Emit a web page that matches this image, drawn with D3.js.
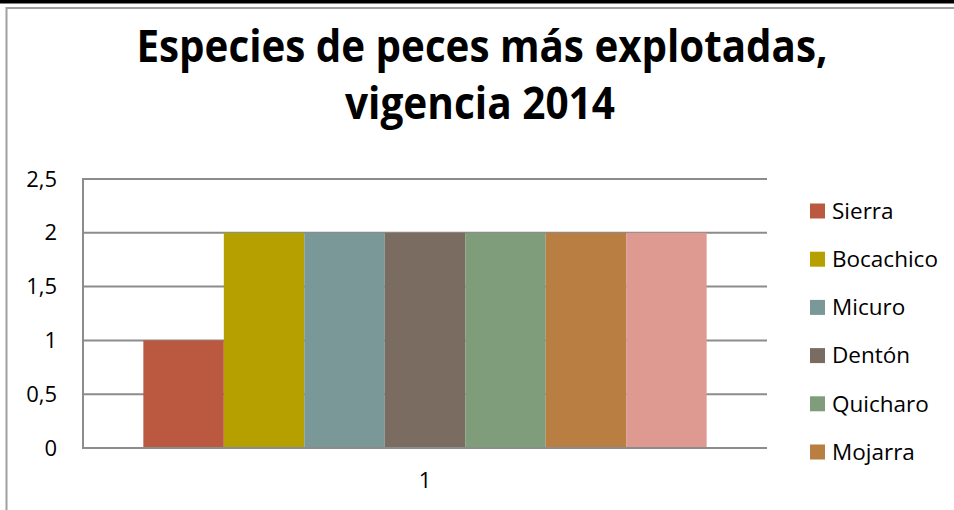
<!DOCTYPE html>
<html><head><meta charset="utf-8">
<script src="https://cdn.jsdelivr.net/npm/d3@7"></script>
<style>
html,body{margin:0;padding:0;background:#fff;}
svg{display:block;}
text{font-family:"Open Sans","Liberation Sans",sans-serif;}
</style></head>
<body>
<svg id="c" width="954" height="510"></svg>
<script>
const categories = ["1"];
const seriesNames = ["Sierra","Bocachico","Micuro","Dentón","Quicharo","Mojarra","Serie 7"];
const seriesValues = [1, 2, 2, 2, 2, 2, 2];
const seriesColors = ["#BB5840","#B5A000","#7A9898","#7A6C61","#7F9C7B","#B87E42","#DE9A90"];
const yTicks = [0, 0.5, 1, 1.5, 2, 2.5];
const legendShown = 6;

const svg = d3.select("#c");
const W = 954, H = 510;
const m = {left: 83, right: 767, top: 179, bottom: 448};
const FONT = '"Open Sans","Liberation Sans",sans-serif';

// top black band and chart frame
svg.append("rect").attr("x",0).attr("y",0).attr("width",W).attr("height",3.5).attr("fill","#000");
svg.append("path").attr("d",`M6.5,${H} V8 H${W}`).attr("fill","none").attr("stroke","#a0a0a0").attr("stroke-width",2);

// title
const title = svg.append("text").attr("text-anchor","middle").attr("font-weight","bold").attr("font-size",44).attr("fill","#000");
title.append("tspan").attr("x",482).attr("y",62).attr("textLength",691).attr("lengthAdjust","spacingAndGlyphs").text("Especies de peces más explotadas,");
title.append("tspan").attr("x",480).attr("y",119).attr("textLength",270).attr("lengthAdjust","spacingAndGlyphs").text("vigencia 2014");

const y = d3.scaleLinear().domain([0,2.5]).range([m.bottom, m.top]);
const x0 = d3.scaleBand().domain(categories).range([m.left, m.right]).paddingInner(0).paddingOuter(0.75/7);
const x1 = d3.scaleBand().domain(seriesNames).range([0, x0.bandwidth()]).padding(0);

// gridlines
svg.append("g").selectAll("line").data(yTicks).join("line")
  .attr("x1",m.left).attr("x2",m.right)
  .attr("y1",d=>y(d)).attr("y2",d=>y(d))
  .attr("stroke","#8c8c8c").attr("stroke-width",2);
// vertical axis line
svg.append("line").attr("x1",m.left).attr("x2",m.left).attr("y1",m.top-1).attr("y2",m.bottom+1)
  .attr("stroke","#8c8c8c").attr("stroke-width",2);

// y axis labels
const fmt = d => String(d).replace(".", ",");
const yAxis = d3.axisLeft(y).tickValues(yTicks).tickFormat(fmt).tickSize(0).tickPadding(26);
const ga = svg.append("g").attr("transform",`translate(${m.left},0)`).call(yAxis);
ga.select(".domain").remove();
ga.selectAll("text").attr("font-size",22).attr("fill","#000").style("font-family",FONT);

// bars
const data = seriesNames.map((n,i)=>({name:n, value:seriesValues[i], color:seriesColors[i]}));
svg.append("g").selectAll("rect").data(data).join("rect")
  .attr("x",d=>x0(categories[0]) + x1(d.name))
  .attr("width",x1.bandwidth())
  .attr("y",d=>y(d.value))
  .attr("height",d=>y(0)-y(d.value))
  .attr("fill",d=>d.color);

// redraw baseline over bars
svg.append("line").attr("x1",m.left).attr("x2",m.right).attr("y1",y(0)).attr("y2",y(0))
  .attr("stroke","#8c8c8c").attr("stroke-width",2);

// x axis label
const xAxis = d3.axisBottom(x0).tickSize(0).tickPadding(24);
const gx = svg.append("g").attr("transform",`translate(0,${m.bottom})`).call(xAxis);
gx.select(".domain").remove();
gx.selectAll("text").attr("font-size",22).attr("fill","#000").style("font-family",FONT);

// legend
const lg = svg.append("g");
const items = data.slice(0, legendShown);
const li = lg.selectAll("g").data(items).join("g")
  .attr("transform",(d,i)=>`translate(810,${211 + i*48.2})`);
li.append("rect").attr("x",0).attr("y",-7.5).attr("width",15).attr("height",15).attr("fill",d=>d.color);
li.append("text").attr("x",22).attr("y",0).attr("dy","0.35em").attr("font-size",22.5).attr("fill","#000").style("font-family",FONT).text(d=>d.name);
</script>
</body></html>
